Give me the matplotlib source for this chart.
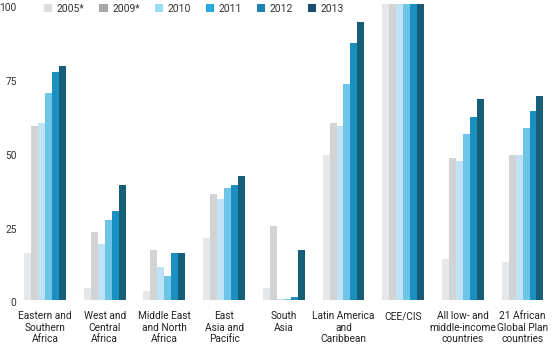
import matplotlib
matplotlib.use("Agg")
import matplotlib.pyplot as plt
import matplotlib.transforms as mtransforms
import numpy as np
from matplotlib.patches import Patch

categories = ["Eastern and\nSouthern\nAfrica", "West and\nCentral\nAfrica", "Middle East\nand North\nAfrica",
              "East\nAsia and\nPacific", "South\nAsia", "Latin America\nand\nCaribbean", "CEE/CIS",
              "All low- and\nmiddle-income\ncountries", "21 African\nGlobal Plan\ncountries"]
series_names = ["2005*", "2009*", "2010", "2011", "2012", "2013"]
v2005 = [16, 4, 3, 21, 4, 49, 100, 14, 13]
v2009 = [59, 23, 17, 36, 25, 60, 100, 48, 49]
v2010 = [60, 19, 11, 34, 0.3, 59, 100, 47, 49]
v2011 = [70, 27, 8, 38, 0.3, 73, 100, 56, 58]
v2012 = [77, 30, 16, 39, 1, 87, 100, 62, 64]
v2013 = [79, 39, 16, 42, 17, 94, 100, 68, 69]
yticks = [0, 25, 50, 75, 100]

series = [v2005, v2009, v2010, v2011, v2012, v2013]
bar_colors = ["#e6e7e8", "#d1d3d4", "#bfe3f5", "#6cc5e6", "#1b8fc0", "#155e78"]
legend_colors = ["#dcdcdc", "#a8a8a8", "#9cdcf8", "#29a9e0", "#1b80b4", "#14506e"]

plt.rcParams['font.family'] = ['Roboto', 'DejaVu Sans']

fig = plt.figure(figsize=(5.55, 3.57), dpi=100)
ax = fig.add_axes([18/555, 57/357, (552-18)/555, (300-4.3)/357])

x = np.arange(len(categories))
n = len(series)
gw = 0.70
bw = gw / n
for i, (vals, c) in enumerate(zip(series, bar_colors)):
    ax.bar(x - gw/2 + bw*(i+0.5), vals, width=bw, color=c, linewidth=0)

ax.set_xlim(-0.452, 8.493)
ax.set_ylim(0, 100)
ax.set_yticks(yticks)
ax.set_yticklabels([str(t) for t in yticks], fontsize=7.3, color="#333333")
ax.set_xticks(x)
ax.set_xticklabels(categories, fontsize=7.3, color="#222222", linespacing=1.2)
ax.tick_params(axis='both', length=0)
ax.tick_params(axis='y', pad=1)
ax.tick_params(axis='x', pad=8)
for s in ax.spines.values():
    s.set_visible(False)

offset = mtransforms.ScaledTranslation(0, -2.5/100, fig.dpi_scale_trans)
for lbl in ax.get_yticklabels():
    lbl.set_transform(lbl.get_transform() + offset)

handles = [Patch(facecolor=c, edgecolor='none', label=l) for c, l in zip(legend_colors, series_names)]
fig.legend(handles=handles, loc='center', bbox_to_anchor=(194/555, 1 - 9/357), ncol=6, frameon=False,
           fontsize=7.5, handlelength=0.8, handleheight=0.8, handletextpad=0.45, columnspacing=1.4,
           labelcolor="#333333", borderpad=0, borderaxespad=0)

fig.savefig("out.png", dpi=100)
